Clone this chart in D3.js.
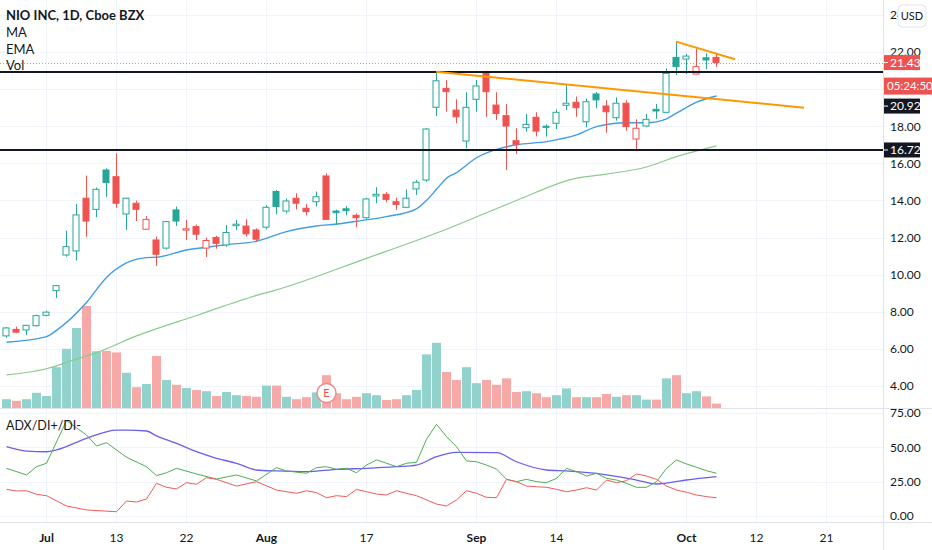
<!DOCTYPE html>
<html>
<head>
<meta charset="utf-8">
<script src="https://cdn.jsdelivr.net/npm/d3@7"></script>
<style>
  body { margin: 0; background: #fff; }
  svg { display: block; font-family: Lato, 'Noto Sans', sans-serif; }
</style>
</head>
<body>
<svg id="chart" width="932" height="550"></svg>
<script>
// data: NIO daily bars, Jun 25 - Oct 6 2020
const dates = ['06-25','06-26','06-29','06-30','07-01','07-02','07-06','07-07','07-08','07-09','07-10',
  '07-13','07-14','07-15','07-16','07-17','07-20','07-21','07-22','07-23','07-24','07-27','07-28','07-29',
  '07-30','07-31','08-03','08-04','08-05','08-06','08-07','08-10','08-11','08-12','08-13','08-14','08-17',
  '08-18','08-19','08-20','08-21','08-24','08-25','08-26','08-27','08-28','08-31','09-01','09-02','09-03',
  '09-04','09-08','09-09','09-10','09-11','09-14','09-15','09-16','09-17','09-18','09-21','09-22','09-23',
  '09-24','09-25','09-28','09-29','09-30','10-01','10-02','10-05','10-06']
const opens = [6.70,7.05,7.02,7.25,7.81,9.14,11.06,11.28,14.12,13.52,15.64,15.28,13.27,13.85,12.45,11.87,
  11.43,13.49,12.40,12.59,11.43,12.00,11.60,12.64,12.62,12.41,12.56,14.48,13.43,14.12,13.58,13.93,15.32,
  13.43,13.55,13.20,13.07,14.24,14.33,13.93,13.63,14.62,15.10,19.02,20.04,18.87,17.20,19.45,20.90,19.14,
  18.57,17.22,17.92,18.48,18.00,18.16,19.13,19.29,18.24,19.74,19.09,18.46,19.24,17.31,18.01,18.91,18.75,
  21.71,21.62,20.81,21.69,21.71]
const highs = [7.18,7.20,7.30,7.85,8.05,9.45,12.37,13.81,15.34,14.70,15.73,16.54,14.15,13.99,13.15,12.05,
  12.90,13.67,12.95,12.70,12.00,12.10,12.68,12.95,12.98,12.50,13.75,14.56,14.10,14.39,13.80,14.48,15.46,
  13.50,13.70,13.30,14.15,14.71,14.45,14.15,14.60,15.10,17.90,20.94,20.49,19.45,19.83,20.49,20.99,19.83,
  19.20,17.89,18.66,18.75,18.10,18.90,20.28,19.60,19.50,19.85,19.40,19.55,19.40,18.37,18.66,19.20,21.12,
  22.56,21.90,22.20,21.93,21.90]
const lows = [6.60,6.85,6.75,7.20,7.75,8.75,10.97,10.76,12.05,13.10,14.20,13.61,12.41,12.89,12.42,10.47,
  11.35,12.62,11.87,11.87,10.95,11.40,11.50,12.40,12.05,11.78,12.45,13.26,13.30,13.52,13.20,13.67,12.95,
  12.68,13.20,12.56,13.00,13.85,13.90,13.49,13.58,14.30,15.00,18.55,18.79,18.16,16.81,18.79,18.51,18.34,
  15.64,16.50,17.71,17.45,17.44,17.85,18.87,18.51,17.95,18.96,17.65,18.30,17.76,16.76,17.95,18.40,18.70,
  20.76,20.81,20.78,21.07,21.20]
const closes = [7.13,6.90,7.27,7.79,7.98,9.41,11.51,13.22,12.89,14.60,14.96,13.85,14.12,13.52,12.98,11.10,
  12.86,12.89,12.47,12.18,11.84,11.69,12.27,12.72,12.20,11.91,13.63,13.67,13.97,13.85,13.40,14.20,12.98,
  13.34,13.45,13.07,14.08,14.33,14.06,13.79,14.12,14.98,17.85,20.45,19.86,18.51,19.02,20.17,19.86,18.69,
  18.01,17.03,18.10,17.74,17.94,18.75,19.24,19.00,19.32,19.42,18.78,19.24,17.98,17.89,18.37,18.82,20.85,
  21.21,21.78,21.21,21.57,21.43]
// volume, millions of shares
const volumes = [22,18,22,38,30,102,148,200,255,142,143,139,88,52,60,130,70,58,50,45,42,30,40,32,30,28,
  56,56,28,22,27,39,82,37,22,28,37,32,20,22,32,45,134,163,90,70,102,62,70,58,74,40,42,37,27,32,49,27,27,
  27,35,28,32,32,21,21,74,82,37,42,29,11]

// moving averages: [bar index, value]
const maPts = [[0,4.60],[4,4.93],[7,5.45],[9,5.80],[13,6.70],[19,7.80],[25,8.88],[27,9.18],[36,10.88],
  [44,12.45],[51,14.00],[57,15.20],[60,15.42],[64,15.80],[67,16.36],[71,16.94]]
const emaPts = [[0,6.36],[4,6.66],[5,7.00],[8,8.50],[10,9.85],[12,10.63],[14,10.92],[15,10.94],[18,11.33],
  [20,11.48],[22,11.62],[25,11.80],[28,12.32],[31,12.62],[33,12.73],[35,12.88],[38,13.13],[41,13.55],
  [42,14.00],[43,14.60],[44,15.20],[45,15.50],[47,16.30],[49,16.75],[51,17.00],[54,17.17],[57,17.53],
  [59,17.98],[62,18.19],[64,18.19],[66,18.40],[67,18.70],[69,19.30],[71,19.63]]

// adx / di+ / di-: [bar index, value]
const adxPts = [[0,50.5],[2,47.3],[4,46.8],[5,48.1],[8,56.6],[11,62.6],[12,62.6],[14,61.9],[15,58.3],
  [17,52.9],[19,46.8],[21,42.0],[23,38.4],[25,33.5],[27,32.8],[30,32.3],[33,34.0],[36,34.7],[39,35.9],
  [41,37.1],[43,43.2],[45,46.4],[49,46.1],[51,39.5],[54,33.5],[56,32.8],[59,31.1],[63,26.2],[65,23.3],
  [68,26.2],[71,28.6]]
const diPlusPts = [[0,34.7],[2,29.9],[3,35.9],[4,38.4],[6,69.4],[8,59.0],[9,51.0],[10,53.4],[12,42.8],
  [14,35.9],[15,29.4],[16,31.5],[17,34.7],[19,30.6],[21,26.9],[23,29.9],[25,25.5],[27,35.2],[28,32.8],
  [30,31.1],[31,35.2],[32,35.9],[33,34.0],[34,34.7],[35,31.5],[36,37.1],[37,40.8],[38,38.4],[39,35.9],
  [40,38.4],[41,39.1],[42,55.9],[43,66.8],[44,57.8],[45,50.5],[46,40.1],[47,39.5],[48,37.1],[49,34.2],
  [50,26.7],[51,25.0],[52,26.7],[53,25.0],[54,24.3],[55,27.4],[56,34.7],[57,32.3],[58,29.1],[59,31.1],
  [60,27.4],[61,26.2],[62,23.8],[63,20.9],[64,20.9],[65,25.0],[66,34.7],[67,40.8],[68,37.9],[69,35.5],
  [70,33.0],[71,31.1]]
const diMinusPts = [[0,19.4],[1,18.2],[2,18.4],[3,15.8],[4,14.8],[6,7.3],[8,4.4],[11,3.1],[12,10.9],
  [13,10.2],[14,12.4],[15,23.8],[16,20.9],[17,19.7],[18,24.3],[19,23.1],[20,27.9],[21,26.7],[23,21.8],
  [25,25.0],[27,18.9],[29,16.5],[30,18.4],[31,17.0],[32,13.3],[33,14.8],[34,14.1],[35,19.4],[36,17.7],
  [37,16.0],[38,15.3],[39,18.4],[40,16.5],[41,14.8],[42,11.7],[43,8.7],[44,7.3],[45,11.7],[46,18.4],
  [47,16.5],[48,13.6],[49,13.3],[50,26.7],[51,25.0],[52,21.8],[53,21.3],[54,20.9],[55,19.4],[56,17.7],
  [57,18.9],[58,20.6],[59,18.9],[60,26.2],[61,24.3],[62,25.7],[63,30.6],[64,29.1],[65,26.7],[66,21.8],
  [67,18.9],[68,17.3],[69,15.3],[70,14.1],[71,13.3]]

// drawings
const levels = [20.92, 16.72]
const trendLines = [
  [[43, 20.94], [79.8, 19.0]],
  [[67, 22.56], [72.9, 21.61]]
]
const lastPrice = 21.43
const countdown = '05:24:50'
const earningsIdx = 32

// ticks
const priceTicks = [4, 6, 8, 10, 12, 14, 16, 18, 20, 22, 24]
const adxTicks = [0, 25, 50, 75]
const timeTickIdx = [4, 11, 18, 26, 36, 47, 55, 68, 75, 82]
const timeTickLabels = ['Jul', '13', '22', 'Aug', '17', 'Sep', '14', 'Oct', '12', '21']

// colors
const up = '#26a69a'
const down = '#ef5350'
const gridColor = '#f0f3fa'
const lineColor = '#e0e3eb'
const textColor = '#131722'

// dimensions
const width = 932
const height = 550
const axisX = 883
const mainBottom = 408
const adxBottom = 522
const bodyW = 7
const volW = 9

const $svg = d3.select('#chart')

const bars = dates.map((d, i) => ({
  date: d, i,
  open: opens[i], high: highs[i], low: lows[i], close: closes[i], vol: volumes[i],
  prev: i > 0 ? closes[i - 1] : opens[i]
}))

const x = d3.scaleLinear().domain([0, 1]).range([6, 16])
const yPrice = d3.scaleLinear().domain([4, 22]).range([386, 52])
const yVol = d3.scaleLinear().domain([0, d3.max(volumes) / 0.25]).range([mainBottom, 0])
const yAdx = d3.scaleLinear().domain([0, 75]).range([516, 413])

// clip paths
const defs = $svg.append('defs')
defs.append('clipPath').attr('id', 'clipMain')
  .append('rect').attr('x', 0).attr('y', 0).attr('width', axisX).attr('height', mainBottom)
defs.append('clipPath').attr('id', 'clipAdx')
  .append('rect').attr('x', 0).attr('y', mainBottom).attr('width', axisX).attr('height', adxBottom - mainBottom)

// grid
const $grid = $svg.append('g').attr('class', 'grid')
$grid.selectAll('.vgrid').data(timeTickIdx).enter().append('line')
  .attr('x1', d => x(d) + 0.5).attr('x2', d => x(d) + 0.5)
  .attr('y1', 0).attr('y2', adxBottom)
  .attr('stroke', gridColor)
$grid.selectAll('.hgrid').data(priceTicks).enter().append('line')
  .attr('x1', 0).attr('x2', axisX)
  .attr('y1', d => Math.round(yPrice(d)) + 0.5).attr('y2', d => Math.round(yPrice(d)) + 0.5)
  .attr('stroke', gridColor)
$grid.selectAll('.agrid').data(adxTicks).enter().append('line')
  .attr('x1', 0).attr('x2', axisX)
  .attr('y1', d => Math.round(yAdx(d)) + 0.5).attr('y2', d => Math.round(yAdx(d)) + 0.5)
  .attr('stroke', gridColor)

const $main = $svg.append('g').attr('clip-path', 'url(#clipMain)')

// volume
$main.append('g').selectAll('rect').data(bars).enter().append('rect')
  .attr('x', d => x(d.i) - volW / 2 + 0.5)
  .attr('width', volW)
  .attr('y', d => yVol(d.vol))
  .attr('height', d => yVol(0) - yVol(d.vol))
  .attr('fill', d => d.close >= d.open ? '#92d2cc' : '#f7a9a7')

// moving averages
const avgLine = d3.line().x(d => x(d[0]) + 0.5).y(d => yPrice(d[1])).curve(d3.curveMonotoneX)
$main.append('path').datum(maPts).attr('d', avgLine)
  .attr('fill', 'none').attr('stroke', '#8cca8e').attr('stroke-width', 1.2)
$main.append('path').datum(emaPts).attr('d', avgLine)
  .attr('fill', 'none').attr('stroke', '#3f9ce8').attr('stroke-width', 1.4)

// candles
const $candles = $main.append('g').selectAll('g').data(bars).enter().append('g')
  .attr('transform', d => `translate(${x(d.i)}, 0)`)
$candles.each(function(d){
  const g = d3.select(this)
  const col = d.close >= d.prev ? up : down
  const filled = d.close < d.open
  const top = yPrice(Math.max(d.open, d.close))
  const bot = yPrice(Math.min(d.open, d.close))
  g.append('line')
    .attr('x1', 0.5).attr('x2', 0.5)
    .attr('y1', yPrice(d.high)).attr('y2', top)
    .attr('stroke', col)
  g.append('line')
    .attr('x1', 0.5).attr('x2', 0.5)
    .attr('y1', bot).attr('y2', yPrice(d.low))
    .attr('stroke', col)
  g.append('rect')
    .attr('x', -bodyW / 2 + 0.5)
    .attr('width', bodyW - 1)
    .attr('y', top)
    .attr('height', Math.max(1, bot - top))
    .attr('fill', filled ? col : '#fff')
    .attr('stroke', col)
})

// horizontal levels
$main.selectAll('.level').data(levels).enter().append('line')
  .attr('x1', 0).attr('x2', axisX)
  .attr('y1', d => yPrice(d)).attr('y2', d => yPrice(d))
  .attr('stroke', textColor).attr('stroke-width', 2)

// trend lines
$main.selectAll('.trend').data(trendLines).enter().append('line')
  .attr('x1', d => x(d[0][0])).attr('y1', d => yPrice(d[0][1]))
  .attr('x2', d => x(d[1][0])).attr('y2', d => yPrice(d[1][1]))
  .attr('stroke', '#ff9800').attr('stroke-width', 2)

// last price line
$main.append('line')
  .attr('x1', 0).attr('x2', axisX)
  .attr('y1', Math.round(yPrice(lastPrice)) + 0.5).attr('y2', Math.round(yPrice(lastPrice)) + 0.5)
  .attr('stroke', down).attr('stroke-opacity', 0.7).attr('stroke-dasharray', '1,2')

// earnings marker
const $earn = $main.append('g')
  .attr('transform', `translate(${x(earningsIdx) + 0.5}, ${yVol(0) - 15})`)
$earn.append('circle').attr('r', 9.5)
  .attr('fill', '#fff').attr('stroke', '#f08a88').attr('stroke-width', 1.5)
$earn.append('text').text('E')
  .attr('text-anchor', 'middle').attr('dy', '0.35em')
  .attr('font-size', 11).attr('fill', down)

// adx pane
const $adx = $svg.append('g').attr('clip-path', 'url(#clipAdx)')
const adxLine = d3.line().x(d => x(d[0]) + 0.5).y(d => yAdx(d[1]))
$adx.append('path').datum(adxPts).attr('d', adxLine.curve(d3.curveMonotoneX))
  .attr('fill', 'none').attr('stroke', '#6a5ff0').attr('stroke-width', 1.3)
adxLine.curve(d3.curveLinear)
$adx.append('path').datum(diPlusPts).attr('d', adxLine)
  .attr('fill', 'none').attr('stroke', '#4caf50').attr('stroke-width', 1)
$adx.append('path').datum(diMinusPts).attr('d', adxLine)
  .attr('fill', 'none').attr('stroke', '#f05a5a').attr('stroke-width', 1)

// pane borders
$svg.append('line').attr('x1', 0).attr('x2', width)
  .attr('y1', mainBottom + 0.5).attr('y2', mainBottom + 0.5).attr('stroke', lineColor)
$svg.append('line').attr('x1', 0).attr('x2', width)
  .attr('y1', adxBottom + 0.5).attr('y2', adxBottom + 0.5).attr('stroke', lineColor)
$svg.append('line').attr('x1', axisX + 0.5).attr('x2', axisX + 0.5)
  .attr('y1', 0).attr('y2', height).attr('stroke', lineColor)

// legends
const $legend = $svg.append('g').attr('fill', textColor).attr('font-size', 13)
$legend.append('text').text('NIO INC, 1D, Cboe BZX')
  .attr('x', 6).attr('y', 20).attr('font-weight', 700)
$legend.selectAll('.lg').data(['MA', 'EMA', 'Vol']).enter().append('text')
  .text(d => d).attr('x', 6).attr('y', (d, i) => 37 + i * 16.5)
$svg.append('text').text('ADX/DI+/DI-')
  .attr('x', 6).attr('y', 430).attr('font-size', 12.5).attr('fill', textColor)

// axes
function styleAxis(g){
  g.select('.domain').remove()
  g.attr('font-family', null).attr('font-size', 12)
  g.selectAll('text').attr('fill', textColor)
}
$svg.append('g').attr('transform', `translate(${axisX}, 0)`)
  .call(d3.axisRight(yPrice).tickValues(priceTicks).tickFormat(d3.format('.2f')).tickSize(0).tickPadding(7))
  .call(styleAxis)
$svg.append('g').attr('transform', `translate(${axisX}, 0)`)
  .call(d3.axisRight(yAdx).tickValues(adxTicks).tickFormat(d3.format('.2f')).tickSize(0).tickPadding(7))
  .call(styleAxis)
$svg.append('g').attr('transform', `translate(0, ${adxBottom + 3})`)
  .call(d3.axisBottom(x).tickValues(timeTickIdx).tickFormat((d, k) => timeTickLabels[k]).tickSize(0).tickPadding(8))
  .call(styleAxis)
  .call(g => g.selectAll('.tick text')
    .attr('font-weight', (d, k) => isNaN(+timeTickLabels[k]) ? 700 : 400))

// currency box
const $usd = $svg.append('g').attr('transform', 'translate(898, 5)')
$usd.append('rect').attr('width', 28).attr('height', 22).attr('rx', 4)
  .attr('fill', '#fff').attr('stroke', lineColor)
$usd.append('text').text('USD').attr('x', 14).attr('y', 11).attr('dy', '0.35em')
  .attr('text-anchor', 'middle').attr('font-size', 11).attr('fill', textColor)

// price labels, pushed down when they overlap
const labels = [
  { text: d3.format('.2f')(lastPrice), y: yPrice(lastPrice), h: 15, bg: down, w: 36, tick: true, fs: 12 },
  { text: countdown, y: yPrice(lastPrice) + 15, h: 17, bg: down, w: 48, tick: false, below: true, fs: 11.5 },
  ...levels.map(v => ({ text: d3.format('.2f')(v), y: yPrice(v), h: 15, bg: textColor, w: 36, tick: true, fs: 12 }))
]
let floor = -Infinity
labels.forEach(l => {
  let top = l.below ? l.y : l.y - l.h / 2
  if (top < floor) top = floor + (l.below ? 0 : 4)
  l.top = top
  floor = top + l.h
})
const $labels = $svg.append('g').selectAll('g').data(labels).enter().append('g')
  .attr('transform', d => `translate(${axisX + 1}, ${d.top})`)
$labels.append('rect').attr('width', d => d.w).attr('height', d => d.h).attr('fill', d => d.bg)
$labels.filter(d => d.tick).append('line')
  .attr('x1', 0).attr('x2', 4).attr('y1', d => d.h / 2).attr('y2', d => d.h / 2)
  .attr('stroke', '#fff')
$labels.append('text').text(d => d.text)
  .attr('x', d => d.tick ? 6 : 3).attr('y', d => d.h / 2).attr('dy', '0.35em')
  .attr('font-size', d => d.fs).attr('fill', '#fff')
</script>
</body>
</html>
